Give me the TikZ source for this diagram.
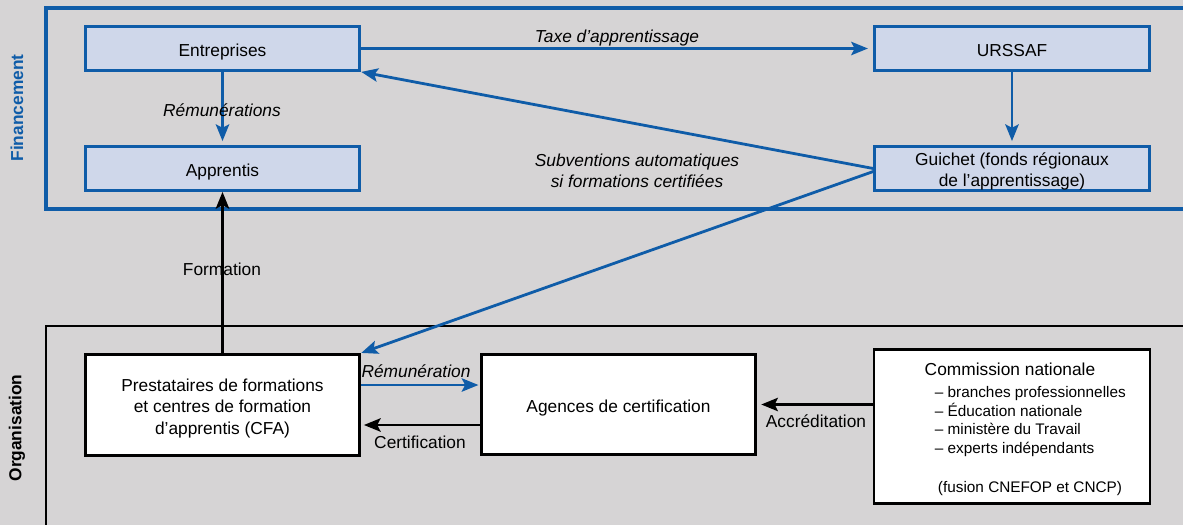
\documentclass[tikz,border=0pt]{standalone}
\usepackage{fontspec}
\setmainfont{Liberation Sans}
\usetikzlibrary{arrows.meta,calc}
\definecolor{bg}{HTML}{D6D4D5}
\definecolor{fblue}{HTML}{0F5CA8}
\definecolor{boxfill}{HTML}{CFD7EA}
\newcommand{\boxtext}[1]{\raisebox{-2.5pt}[\height][\depth]{\begin{tabular}{@{}c@{}}#1\end{tabular}}}
\begin{document}
\begin{tikzpicture}[x=0.75pt,y=-0.75pt,
  fbox/.style={draw=fblue,fill=boxfill,line width=2.1pt,minimum width=206pt,minimum height=33pt,inner sep=0pt,font=\fontsize{13}{15.75}\selectfont},
  obox/.style={draw=black,fill=white,line width=2.1pt,inner sep=0pt,font=\fontsize{13}{16.1}\selectfont},
  tip/.style={-{Stealth[length=12.5pt,width=10pt,inset=2.5pt]}},
  barr/.style={draw=fblue,line width=2.1pt,tip},
  karr/.style={draw=black,line width=2.1pt,tip},
  ilab/.style={font=\fontsize{13}{15.6}\selectfont\itshape,align=center,inner sep=0pt},
  rlab/.style={font=\fontsize{13}{15.6}\selectfont,align=center,inner sep=0pt},
  side/.style={rotate=90,font=\fontsize{13}{15.6}\selectfont\bfseries,inner sep=0pt},
  small/.style={font=\fontsize{11.5}{14}\selectfont,inner sep=0pt,align=left}]
\useasboundingbox (0,0) rectangle (1183,525);
\fill[bg] (0,0) rectangle (1183,525);

% frames
\draw[fblue,line width=2.4pt] (1183,8) -- (46,8) -- (46,209) -- (1183,209);
\draw[black,line width=2.2pt] (1183,326) -- (46,326) -- (46,525);
\node[side,text=fblue] (fin) at (17,108) {Financement};
\node[side,text=black] (org) at (17,428) {Organisation};

% financement boxes
\node[fbox] (ent) at (222.5,48.5) {\boxtext{Entreprises}};
\node[fbox] (app) at (222.5,168.5) {\boxtext{Apprentis}};
\node[fbox] (urs) at (1012,48.5) {\boxtext{URSSAF}};
\node[fbox] (gui) at (1012,168.5) {\boxtext{Guichet (fonds régionaux\\de l’apprentissage)}};

% organisation boxes
\node[obox,minimum width=206pt,minimum height=76pt] (cfa) at (222.5,405) {\boxtext{Prestataires de formations\\et centres de formation\\d’apprentis (CFA)}};
\node[obox,minimum width=206pt,minimum height=75pt] (age) at (618.5,404.5) {\boxtext{Agences de certification}};
\node[obox,minimum width=207pt,minimum height=116pt] (com) at (1012,426.5) {};
\node[rlab,anchor=north] (comt) at ($(com.north)+(-2,15)$) {Commission nationale};
\node[small,anchor=north west] (coml) at ($(com.north west)+(62,38.5)$) {– branches professionnelles\\– Éducation nationale\\– ministère du Travail\\– experts indépendants};
\node[small,anchor=south] (comf) at ($(com.south)+(18,-9)$) {(fusion CNEFOP et CNCP)};

% financement connectors
\draw[barr,shorten >=4pt] (ent.east) -- (urs.west);
\node[ilab] (ltaxe) at (617,38) {Taxe d’apprentissage};
\draw[barr,shorten >=3pt] (ent.south) -- (app.north);
\node[ilab] (lrem) at (222,110) {Rémunérations};
\draw[barr,shorten >=3pt] (urs.south) -- (gui.north);
\draw[barr] (gui.west) -- (ent.south east);
\draw[barr] ($(gui.west)+(0,3)$) -- (cfa.north east);
\node[ilab] (lsub) at (637,171) {Subventions automatiques\\si formations certifiées};

% organisation connectors
\draw[karr] (cfa.north) -- (app.south);
\node[rlab] (lform) at (222,269) {Formation};
\draw[barr,shorten >=1pt] ($(cfa.east)+(0,-20)$) -- ($(age.west)+(0,-19.5)$);
\node[ilab] (lrem2) at (416,371) {Rémunération};
\draw[karr,shorten >=2pt] ($(age.west)+(0,20.5)$) -- ($(cfa.east)+(0,20)$);
\node[rlab] (lcert) at (420,442) {Certification};
\draw[karr,shorten >=3pt] (com.west |- age.east) -- (age.east);
\node[rlab] (lacc) at (816,421) {Accréditation};
\end{tikzpicture}
\end{document}
